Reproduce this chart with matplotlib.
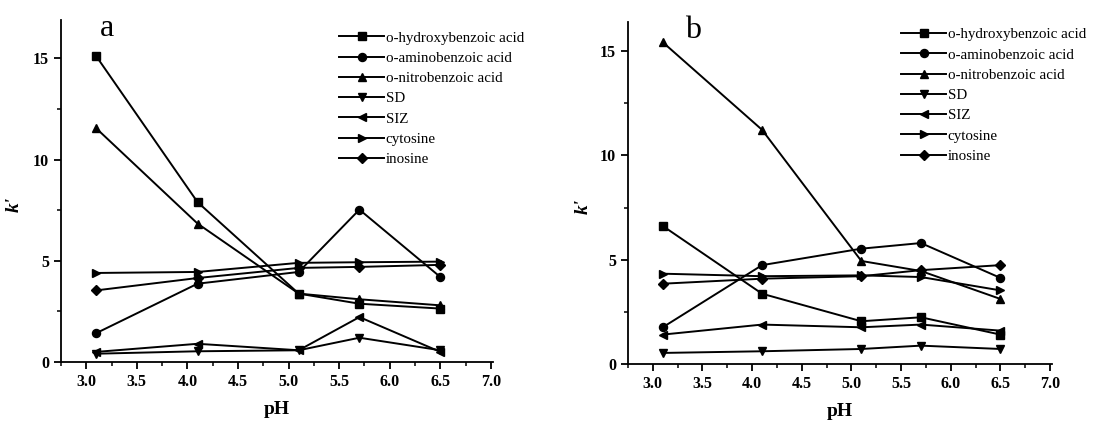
import matplotlib
matplotlib.use("Agg")
import matplotlib.pyplot as plt
from matplotlib.ticker import MultipleLocator

plt.rcParams['font.family'] = ['Liberation Serif', 'DejaVu Serif']

ph = [3.1, 4.1, 5.1, 5.7, 6.5]
names = ['o-hydroxybenzoic acid', 'o-aminobenzoic acid', 'o-nitrobenzoic acid',
         'SD', 'SIZ', 'cytosine', 'inosine']
markers = ['s', 'o', '^', 'v', '<', '>', 'D']

# panel a
a_hydroxy = [15.1, 7.9, 3.38, 2.88, 2.64]
a_amino = [1.43, 3.87, 4.45, 7.53, 4.2]
a_nitro = [11.54, 6.84, 3.38, 3.1, 2.8]
a_sd = [0.41, 0.53, 0.58, 1.2, 0.58]
a_siz = [0.5, 0.9, 0.58, 2.22, 0.5]
a_cytosine = [4.4, 4.45, 4.9, 4.93, 4.96]
a_inosine = [3.54, 4.15, 4.65, 4.7, 4.8]

# panel b
b_hydroxy = [6.62, 3.37, 2.05, 2.24, 1.41]
b_amino = [1.76, 4.74, 5.53, 5.8, 4.13]
b_nitro = [15.43, 11.23, 4.94, 4.46, 3.12]
b_sd = [0.53, 0.61, 0.72, 0.88, 0.72]
b_siz = [1.41, 1.89, 1.76, 1.89, 1.6]
b_cytosine = [4.33, 4.21, 4.25, 4.17, 3.53]
b_inosine = [3.85, 4.09, 4.21, 4.5, 4.74]

panel_a = [a_hydroxy, a_amino, a_nitro, a_sd, a_siz, a_cytosine, a_inosine]
panel_b = [b_hydroxy, b_amino, b_nitro, b_sd, b_siz, b_cytosine, b_inosine]

fig = plt.figure(figsize=(11.07, 4.23), dpi=100)
ax1 = fig.add_axes([0.0551, 0.1442, 0.3902, 0.8085])
ax2 = fig.add_axes([0.5673, 0.1395, 0.3830, 0.8085])


def draw(ax, series, letter, letter_x, ymax, legend_loc, klabel_x):
    for vals, name, m in zip(series, names, markers):
        ax.plot(ph, vals, color='black', lw=1.4, marker=m,
                markersize=5.8 if m != 'D' else 5.0, label=name)
    ax.set_xlim(2.75, 7.02)
    ax.set_ylim(0, ymax)
    ax.xaxis.set_minor_locator(MultipleLocator(0.25))
    ax.yaxis.set_minor_locator(MultipleLocator(2.5))
    ax.spines['top'].set_visible(False)
    ax.spines['right'].set_visible(False)
    ax.spines['left'].set_linewidth(1.3)
    ax.spines['bottom'].set_linewidth(1.3)
    ax.tick_params(which='major', direction='out', length=5, width=1.3, labelsize=11.5)
    ax.tick_params(which='minor', direction='out', length=3, width=1.1)
    ax.set_xticks([3.0, 3.5, 4.0, 4.5, 5.0, 5.5, 6.0, 6.5, 7.0])
    ax.set_xticklabels(['%.1f' % t for t in ax.get_xticks()], fontweight='bold')
    ax.set_yticks([0, 5, 10, 15])
    ax.set_yticklabels(['0', '5', '10', '15'], fontweight='bold')
    ax.set_xlabel('pH', fontsize=14, fontweight='bold', labelpad=8)
    ax.set_ylabel("k'", fontsize=14, fontweight='bold', style='italic')
    ax.yaxis.set_label_coords(klabel_x, 0.46)
    ax.text(letter_x, 0.975, letter, transform=ax.transAxes, fontsize=23,
            ha='left', va='center')
    ax.legend(loc='upper left', bbox_to_anchor=legend_loc, frameon=False,
              fontsize=10.8, handlelength=3.0, handletextpad=0.1,
              labelspacing=0.45, borderaxespad=0)


draw(ax1, panel_a, 'a', 0.09, 16.9, (0.63, 0.985), -0.088)
draw(ax2, panel_b, 'b', 0.135, 16.4, (0.63, 1.0), -0.085)

fig.savefig('out.png', dpi=100)
